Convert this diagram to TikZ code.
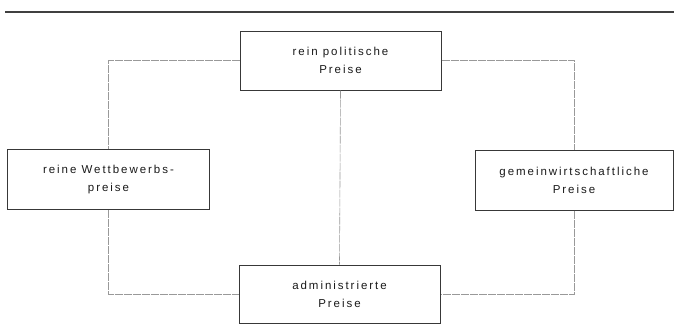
\documentclass[tikz,border=0pt]{standalone}
\usepackage{fontspec}
\setmainfont{Liberation Sans}[LetterSpace=17]
\begin{document}
\begin{tikzpicture}[x=1pt,y=-1pt,
  box/.style={draw=black!78, line width=1pt, minimum width=#1, minimum height=60pt,
    inner sep=0pt, align=center, font=\fontsize{11.5}{18}\selectfont, text=black!90},
  conn/.style={draw=black!40, line width=0.6pt, dash pattern=on 8pt off 1pt},
  rule/.style={draw=black!75, line width=1.5pt}]
\useasboundingbox (0,0) rectangle (674,327);
\coordinate (r0) at (5,12);
\coordinate (r1) at (674,12);
\draw[rule] (r0) -- (r1);
\node[box=201pt, minimum height=59pt] (top) at (340.5,60.5) {rein politische\\Preise};
\node[box=202pt] (left) at (108.5,179.5) {reine Wettbewerbs-\\preise};
\node[box=198pt] (right) at (574,180) {gemeinwirtschaftliche\\Preise};
\node[box=201pt, minimum height=58pt] (bot) at (339.5,294) {administrierte\\Preise};
\draw[conn] (top.west) -| (left.north);
\draw[conn] (top.east) -| (right.north);
\draw[conn] (left.south) |- (bot.west);
\draw[conn] (right.south) |- (bot.east);
\draw[conn] (top.south) -- (bot.north);
\end{tikzpicture}
\end{document}
